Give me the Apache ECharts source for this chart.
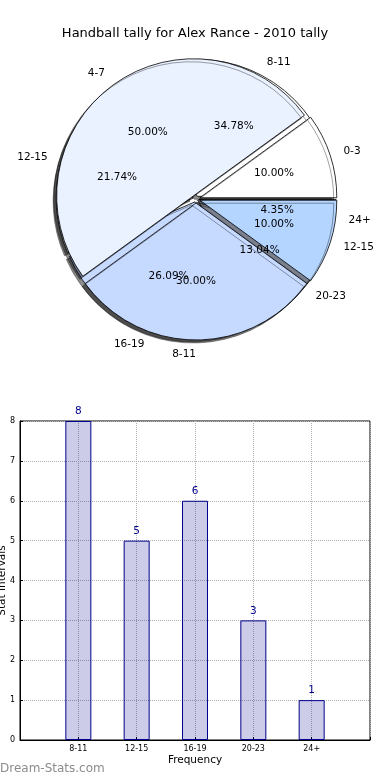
<!DOCTYPE html>
<html><head><meta charset="utf-8">
<script src="https://cdn.jsdelivr.net/npm/echarts@6/dist/echarts.min.js"></script>
<style>html,body{margin:0;padding:0;background:#fff}#c{width:390px;height:780px}</style>
</head><body><div id="c"></div>
<script>
const titleText = 'Handball tally for Alex Rance - 2010 tally';
const pieACategories = ['8-11', '12-15', '16-19', '20-23', '24+'];
const pieAValues = [8, 5, 6, 3, 1];
const pieBCategories = ['0-3', '4-7', '8-11', '12-15'];
const pieBValues = [1, 5, 3, 1];
const barCategories = ['8-11', '12-15', '16-19', '20-23', '24+'];
const barValues = [8, 5, 6, 3, 1];
const yTicks = [0, 1, 2, 3, 4, 5, 6, 7, 8];
const pieAColors = ['#ffffff', '#eaf1ff', '#c6d9ff', '#dce8ff', '#b4d5ff'];
const pieBColors = ['#ffffff', '#eaf1ff', '#c6d9ff', '#b4d5ff'];

const FONT = 'DejaVu Sans';
const CENTER = [196, 199];
const R = 137;

function pieSeries(names, values, colors, offset) {
  return {
    type: 'pie', center: CENTER, radius: R, startAngle: 0, clockwise: false,
    selectedMode: 'multiple', selectedOffset: offset, avoidLabelOverlap: false,
    animation: false, silent: true,
    labelLayout: { hideOverlap: false },
    label: { show: true, position: 'outside', formatter: '{b}', color: '#000', fontSize: 10.5, fontFamily: FONT, distanceToLabelLine: 0 },
    labelLine: { show: false, length: Math.round(R * 0.1), length2: 0 },
    itemStyle: { borderColor: '#000', borderWidth: 0.8, shadowColor: 'rgba(0,0,0,0.45)', shadowOffsetX: -3, shadowOffsetY: 3, shadowBlur: 0 },
    data: names.map((n, i) => ({ name: n, value: values[i], selected: true, itemStyle: { color: colors[i] } }))
  };
}
function pctSeries(names, values) {
  return {
    type: 'pie', center: CENTER, radius: [0, Math.round(R * 1.2) - 6], startAngle: 0, clockwise: false,
    animation: false, silent: true, avoidLabelOverlap: false, z: 5,
    labelLayout: { hideOverlap: false },
    itemStyle: { color: 'rgba(0,0,0,0)', borderWidth: 0 },
    label: { show: true, position: 'inside', formatter: p => p.percent.toFixed(2) + '%', color: '#000', fontSize: 10.5, fontFamily: FONT },
    labelLine: { show: false },
    data: names.map((n, i) => ({ name: n, value: values[i] }))
  };
}

const chart = echarts.init(document.getElementById('c'), null, { renderer: 'canvas' });
chart.setOption({
  animation: false,
  backgroundColor: '#fff',
  title: { text: titleText, left: 'center', top: 22, textStyle: { fontFamily: FONT, fontSize: 13, fontWeight: 'normal', color: '#000' } },
  grid: { left: 20, right: 20, top: 421, bottom: 40, containLabel: false, outerBoundsMode: 'none', show: true, borderColor: '#000', borderWidth: 1, backgroundColor: 'rgba(0,0,0,0)' },
  xAxis: {
    type: 'value', min: -1, max: 5, interval: 1,
    name: 'Frequency', nameLocation: 'middle', nameGap: 15, nameMoveOverlap: false,
    nameTextStyle: { fontFamily: FONT, fontSize: 10.5, color: '#000' },
    axisLine: { show: true, onZero: false, lineStyle: { color: '#000', width: 1 } },
    axisTick: { show: true, inside: true, length: 3, lineStyle: { color: '#000' } },
    axisLabel: { fontFamily: FONT, fontSize: 8, color: '#000', margin: 5, formatter: v => barCategories[v] || '' },
    splitLine: { show: true, lineStyle: { color: '#b0b0b0', type: 'dotted', width: 1 } }
  },
  yAxis: {
    type: 'value', min: yTicks[0], max: yTicks[yTicks.length - 1], interval: 1,
    name: 'Stat Intervals', nameLocation: 'middle', nameGap: 12, nameMoveOverlap: false,
    nameTextStyle: { fontFamily: FONT, fontSize: 10.5, color: '#000' },
    axisLine: { show: true, onZero: false, lineStyle: { color: '#000', width: 1 } },
    axisTick: { show: true, inside: true, length: 3, lineStyle: { color: '#000' } },
    axisLabel: { fontFamily: FONT, fontSize: 8, color: '#000', margin: 5 },
    splitLine: { show: true, lineStyle: { color: '#b0b0b0', type: 'dotted', width: 1 } }
  },
  graphic: [{ type: 'text', left: 0, top: 763, style: { text: 'Dream-Stats.com', fill: '#8c8c8c', font: '12px "DejaVu Sans"' } }],
  series: [
    pieSeries(pieACategories, pieAValues, pieAColors, 3),
    pieSeries(pieBCategories, pieBValues, pieBColors, 4),
    pctSeries(pieACategories, pieAValues),
    pctSeries(pieBCategories, pieBValues),
    {
      type: 'bar', barWidth: 26, animation: false, silent: true,
      data: barValues.map((v, i) => [i, v]),
      itemStyle: { color: 'rgba(0,0,139,0.2)', borderColor: '#00008b', borderWidth: 1 },
      label: { show: true, position: 'top', distance: 4, color: '#00008b', fontSize: 10.5, fontFamily: FONT }
    }
  ]
});
</script></body></html>
